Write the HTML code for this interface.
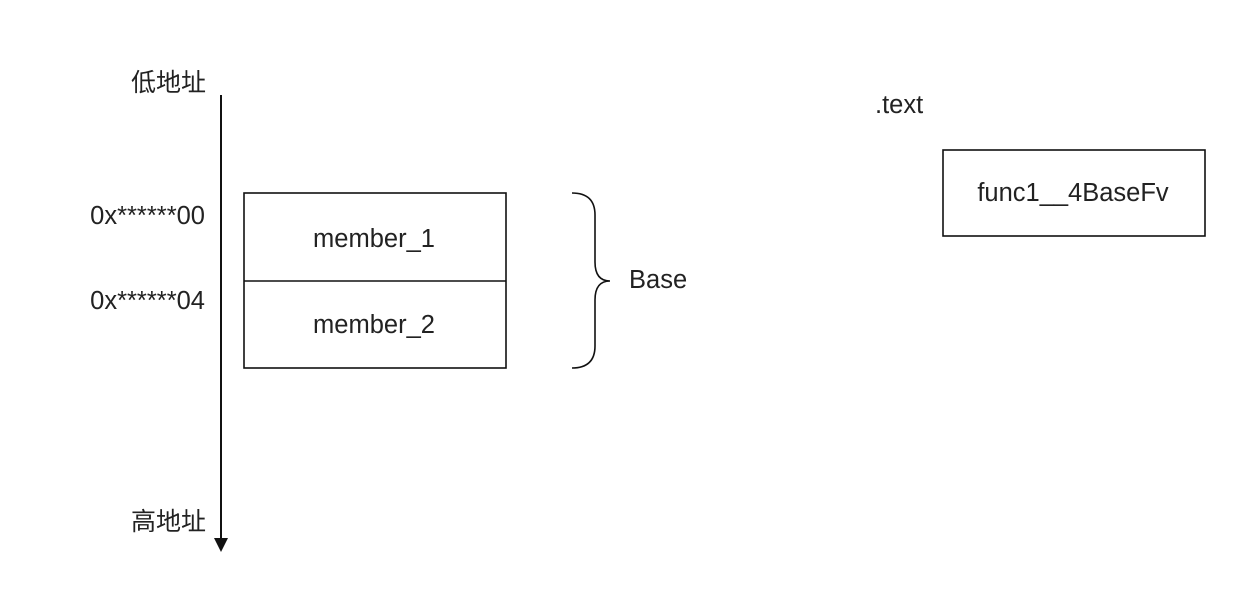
<!DOCTYPE html>
<html><head><meta charset="utf-8"><style>
html,body{margin:0;padding:0;background:#fff;}
svg{display:block}
text{font-family:"Liberation Sans","Noto Sans CJK SC",sans-serif;fill:#222;}
</style></head><body>
<svg width="1249" height="591" viewBox="0 0 1249 591" xmlns="http://www.w3.org/2000/svg">
<line x1="221" y1="95" x2="221" y2="540" stroke="#111" stroke-width="2"/>
<polygon points="214,538 228,538 221,552" fill="#111"/>
<text x="206" y="91" font-size="25" text-anchor="end">低地址</text>
<text x="206" y="530" font-size="25" text-anchor="end">高地址</text>
<text x="205" y="224" font-size="25.5" text-anchor="end">0x******00</text>
<text x="205" y="309" font-size="25.5" text-anchor="end">0x******04</text>
<rect x="244" y="193" width="262" height="175" fill="#fff" stroke="#111" stroke-width="1.6"/>
<line x1="244" y1="281" x2="506" y2="281" stroke="#111" stroke-width="1.6"/>
<text x="374" y="247" font-size="25.5" text-anchor="middle">member_1</text>
<text x="374" y="333" font-size="25.5" text-anchor="middle">member_2</text>
<path d="M572,193 Q595,193 595,215 L595,262 Q595,281 610,281 Q595,281 595,300 L595,346 Q595,368 572,368" fill="none" stroke="#111" stroke-width="1.6"/>
<text x="629" y="288" font-size="25.5">Base</text>
<text x="875" y="113" font-size="25.5">.text</text>
<rect x="943" y="150" width="262" height="86" fill="#fff" stroke="#111" stroke-width="1.6"/>
<text x="1073" y="201" font-size="25.5" text-anchor="middle">func1__4BaseFv</text>
</svg>
</body></html>
